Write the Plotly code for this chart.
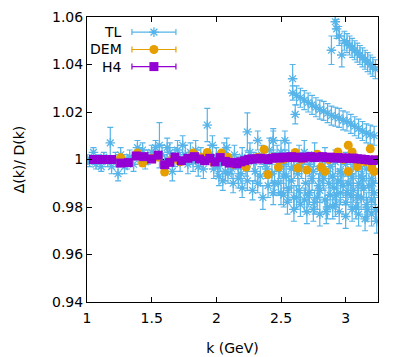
import plotly.graph_objects as go

# ---- data ----
# TL (lattice, several branches at high k)
tl_k = [
    1.00, 1.02, 1.05, 1.07, 1.09, 1.11, 1.13, 1.16, 1.18, 1.19, 1.22, 1.24, 1.26, 1.29, 1.31,
    1.33, 1.36, 1.39, 1.41, 1.43, 1.45, 1.47, 1.50, 1.53, 1.56, 1.58, 1.60, 1.62, 1.64, 1.66,
    1.68, 1.70, 1.72, 1.74, 1.76, 1.78, 1.80, 1.82, 1.84, 1.86, 1.88, 1.90, 1.93, 1.95,
    # branch near 1
    1.97, 2.00, 2.03, 2.06, 2.08, 2.11, 2.14, 2.17, 2.20, 2.24, 2.26, 2.29, 2.32, 2.35, 2.38,
    2.41, 2.44, 2.47, 2.50, 2.53, 2.56, 2.60, 2.64, 2.68, 2.72, 2.76, 2.80, 2.84, 2.88, 2.92,
    2.96, 3.00, 3.04, 3.08, 3.12, 3.16, 3.20, 3.23,
    # lower branch
    1.98, 2.02, 2.05, 2.09, 2.13, 2.17, 2.20, 2.24, 2.28, 2.32, 2.36, 2.40, 2.44, 2.48, 2.52,
    2.56, 2.60, 2.64, 2.68, 2.72, 2.76, 2.80, 2.84, 2.88, 2.92, 2.96, 3.00, 3.04, 3.08, 3.12,
    3.16, 3.20, 3.23,
    # lowest branch
    2.45, 2.50, 2.55, 2.60, 2.65, 2.70, 2.75, 2.80, 2.85, 2.90, 2.95, 3.00, 3.05, 3.10, 3.15,
    3.20, 3.24,
    # middle-low branch
    2.52, 2.58, 2.63, 2.69, 2.74, 2.79, 2.83, 2.87, 2.91, 2.94, 2.98, 3.02, 3.06, 3.10, 3.14,
    3.18, 3.22,
    # extra points filling the cloud
    2.01, 2.07, 2.12, 2.19, 2.23, 2.30, 2.34, 2.39, 2.43, 2.49, 2.54, 2.58, 2.62, 2.66, 2.71,
    2.75, 2.78, 2.82, 2.86, 2.90, 2.93, 2.97, 3.01, 3.05, 3.09, 3.13, 3.17, 3.21,
    # upper branch 1
    2.44, 2.53, 2.59, 2.59, 2.61, 2.62, 2.65, 2.68, 2.71, 2.74, 2.77, 2.80, 2.83, 2.86, 2.89,
    2.92, 2.95, 2.98, 3.01, 3.04, 3.07, 3.10, 3.13, 3.16, 3.19, 3.22,
    # upper branch 2
    2.89, 2.92, 2.93, 2.95, 2.97, 2.99, 3.01, 3.03, 3.05, 3.07, 3.09, 3.11, 3.13, 3.15, 3.17,
    3.19, 3.21, 3.23,
]
tl_v = [
    1.000, 0.999, 1.003, 0.998, 1.000, 0.997, 1.001, 0.999, 1.007, 0.997, 1.000, 0.994, 1.002, 0.997, 0.999,
    1.001, 0.998, 1.005, 1.002, 1.004, 0.999, 1.001, 1.003, 1.005, 1.006, 1.002, 0.998, 1.005, 1.003, 0.995,
    1.001, 1.004, 0.999, 1.006, 1.002, 0.998, 1.003, 0.999, 1.004, 0.997, 1.001, 0.996, 1.0145, 1.002,
    1.006, 1.001, 0.999, 1.003, 1.005, 0.998, 1.002, 0.997, 1.001, 1.0116, 1.003, 0.999, 1.008, 1.002, 0.998,
    1.004, 1.008, 1.001, 1.003, 0.999, 1.002, 0.997, 1.001, 1.003, 0.998, 1.002, 0.996, 1.000, 0.997, 0.999,
    0.995, 0.998, 0.994, 0.997, 0.993, 0.996, 0.992, 0.995,
    0.996, 0.993, 0.991, 0.994, 0.990, 0.992, 0.988, 0.991, 0.987, 0.990, 0.984, 0.989, 0.986, 0.990, 0.985,
    0.988, 0.984, 0.987, 0.983, 0.986, 0.982, 0.987, 0.983, 0.985, 0.981, 0.986, 0.982, 0.985, 0.980, 0.984,
    0.981, 0.983, 0.979,
    0.990, 0.986, 0.982, 0.979, 0.981, 0.978, 0.979, 0.977, 0.978, 0.980, 0.978, 0.976, 0.979, 0.977, 0.975,
    0.977, 0.974,
    0.993, 0.991, 0.994, 0.990, 0.992, 0.989, 0.992, 0.990, 0.988, 0.991, 0.989, 0.990, 0.987, 0.990, 0.988,
    0.989, 0.986,
    0.997, 0.995, 0.996, 0.994, 0.997, 0.995, 0.993, 0.996, 0.994, 0.996, 0.993, 0.996, 0.984, 0.997, 0.985,
    0.995, 0.984, 0.994, 0.980, 0.993, 0.985, 0.994, 0.986, 0.993, 0.984, 0.992, 0.979, 0.990,
    1.008, 1.008, 1.034, 1.028, 1.019, 1.027, 1.026, 1.025, 1.024, 1.023, 1.022, 1.021, 1.0205, 1.0195, 1.0185,
    1.018, 1.0175, 1.0165, 1.016, 1.015, 1.014, 1.013, 1.012, 1.011, 1.0105, 1.010,
    1.046, 1.058, 1.055, 1.052, 1.044, 1.050, 1.049, 1.048, 1.047, 1.046, 1.045, 1.044, 1.043, 1.042, 1.041,
    1.040, 1.039, 1.038,
]
tl_err = (
    [0.002] * 8 + [0.0065] + [0.003] * 15 + [0.0095] + [0.004] * 17 + [0.007, 0.004]
    + [0.004] * 9 + [0.008] + [0.004] * 5 + [0.005] * 23
    + [0.004] * 10 + [0.005] * 23
    + [0.005] * 17
    + [0.005] * 17
    + [0.004] * 10 + [0.005] * 18
    + [0.004, 0.004, 0.006, 0.003] + [0.004] * 22
    + [0.006, 0.003, 0.004, 0.004, 0.005] + [0.004] * 13
)

# DEM
dem_k = [1.26, 1.39, 1.43, 1.50, 1.55, 1.60, 1.66, 1.72, 1.82, 1.88, 1.93, 1.97, 2.04, 2.09, 2.13,
         2.18, 2.23, 2.27, 2.32, 2.37, 2.40, 2.44, 2.48, 2.52, 2.56, 2.61, 2.63, 2.66, 2.70, 2.74,
         2.78, 2.81, 2.84, 2.87, 2.91, 2.94, 2.98, 3.02, 3.02, 3.05, 3.09, 3.12, 3.15, 3.19, 3.20,
         3.22, 3.24]
dem_v = [1.0008, 1.0027, 0.9985, 1.0005, 1.0010, 0.9947, 1.0000, 0.9990, 1.0027, 1.0010, 1.0030,
         0.9990, 1.0027, 1.0010, 0.9980, 0.9990, 0.9968, 1.0000, 1.0010, 1.0042, 0.9937, 1.0010,
         0.9968, 1.0000, 1.0010, 1.0030, 0.9964, 1.0000, 0.9956, 1.0010, 1.0022, 0.9968, 0.9950,
         1.0000, 1.0010, 1.0032, 1.0000, 1.0060, 0.9950, 1.0032, 0.9970, 1.0000, 0.9990, 1.0045,
         0.9965, 0.9950, 1.0000]
dem_err = [0.0012] * len(dem_k)

# H4
h4_k = [1.05, 1.12, 1.19, 1.26, 1.32, 1.38, 1.44, 1.50, 1.55, 1.60, 1.64, 1.68, 1.73, 1.78, 1.83,
        1.87, 1.91, 1.95, 1.99, 2.03, 2.07, 2.10, 2.13, 2.16, 2.19, 2.22, 2.25, 2.28, 2.31, 2.34,
        2.37, 2.40, 2.43, 2.46, 2.49, 2.52, 2.55, 2.58, 2.61, 2.64, 2.67, 2.70, 2.73, 2.76, 2.79,
        2.82, 2.85, 2.88, 2.91, 2.94, 2.97, 3.00, 3.03, 3.06, 3.09, 3.12, 3.15, 3.18, 3.21, 3.23]
h4_v = [1.0000, 1.0000, 1.0000, 0.9985, 0.9987, 1.0015, 1.0012, 1.0002, 1.0018, 0.9978, 0.9988,
        1.0010, 0.9995, 1.0005, 1.0012, 1.0002, 0.9995, 1.0005, 0.9990, 1.0008, 0.9992, 0.9985,
        0.9988, 0.9982, 0.9990, 0.9995, 1.0000, 1.0003, 1.0002, 1.0005, 1.0003, 1.0000, 1.0005,
        1.0008, 1.0006, 1.0010, 1.0008, 1.0012, 1.0008, 1.0010, 1.0006, 1.0010, 1.0012, 1.0008,
        1.0010, 1.0012, 1.0008, 1.0010, 1.0006, 1.0008, 1.0005, 1.0007, 1.0004, 1.0006, 1.0003,
        1.0002, 1.0000, 0.9998, 0.9996, 0.9998]
h4_err = [0.0005] * len(h4_k)

series_names = ["TL", "DEM", "H4"]
series_colors = ["#56b4e9", "#e69f00", "#9400d3"]
series_symbols = ["asterisk-open", "circle", "square"]

x_range = [1, 3.25]
y_range = [0.94, 1.06]
x_ticks = [1, 1.5, 2, 2.5, 3]
y_ticks = [0.94, 0.96, 0.98, 1, 1.02, 1.04, 1.06]

FONT = "DejaVu Sans"


def marker_style(sym, col):
    if sym == "asterisk-open":
        return dict(symbol=sym, size=8, color=col, line=dict(color=col, width=1.3))
    return dict(symbol=sym, size=9, color=col, line=dict(width=0))


fig = go.Figure()

# reference line at 1
fig.add_trace(go.Scatter(x=x_range, y=[1, 1], mode="lines",
                         line=dict(color="black", width=1.5), hoverinfo="skip"))

for kk, vv, ee, sym, col in [(tl_k, tl_v, tl_err, series_symbols[0], series_colors[0]),
                             (dem_k, dem_v, dem_err, series_symbols[1], series_colors[1]),
                             (h4_k, h4_v, h4_err, series_symbols[2], series_colors[2])]:
    fig.add_trace(go.Scatter(
        x=kk, y=vv, mode="markers", marker=marker_style(sym, col),
        error_y=dict(type="data", array=ee, color=col, thickness=1.2, width=3),
    ))

# gnuplot style key: label on the left, sample with error bar on the right
key_x = 0.230
key_half = 0.0756
key_ys = [0.947, 0.886, 0.826]
for name, col, sym, ky in zip(series_names, series_colors, series_symbols, key_ys):
    fig.add_trace(go.Scatter(
        x=[key_x], y=[ky], xaxis="x2", yaxis="y2", mode="markers",
        marker=marker_style(sym, col),
        error_x=dict(type="constant", value=key_half, color=col, thickness=1.2, width=3),
        hoverinfo="skip",
    ))
    fig.add_annotation(x=0.128, y=ky, xref="paper", yref="paper", text=name,
                       showarrow=False, xanchor="right", yanchor="middle",
                       font=dict(family=FONT, size=14, color="black"))

axis_common = dict(
    showline=True, linecolor="black", linewidth=1, mirror="allticks",
    ticks="inside", ticklen=5, tickcolor="black", showgrid=False, zeroline=False,
    automargin=False,
    tickfont=dict(family=FONT, size=14, color="black"),
)

# the page body keeps an 8px margin, so the figure is a bit smaller than the window
fig.update_layout(
    width=399, height=349,
    margin=dict(l=79, r=29, t=9, b=55),
    paper_bgcolor="white", plot_bgcolor="white",
    showlegend=False,
    font=dict(family=FONT, size=14, color="black"),
    xaxis=dict(range=x_range, tickvals=x_ticks, ticktext=["1", "1.5", "2", "2.5", "3"],
               ticklabelstandoff=3,
               title=dict(text="k (GeV)", font=dict(family=FONT, size=14), standoff=18),
               **axis_common),
    yaxis=dict(range=y_range, tickvals=y_ticks,
               ticktext=["0.94", "0.96", "0.98", "1", "1.02", "1.04", "1.06"],
               title=dict(text="Δ(k)/ D(k)", font=dict(family=FONT, size=14), standoff=24),
               **axis_common),
    xaxis2=dict(overlaying="x", range=[0, 1], visible=False),
    yaxis2=dict(overlaying="y", range=[0, 1], visible=False),
)

fig.write_html("out.html")
